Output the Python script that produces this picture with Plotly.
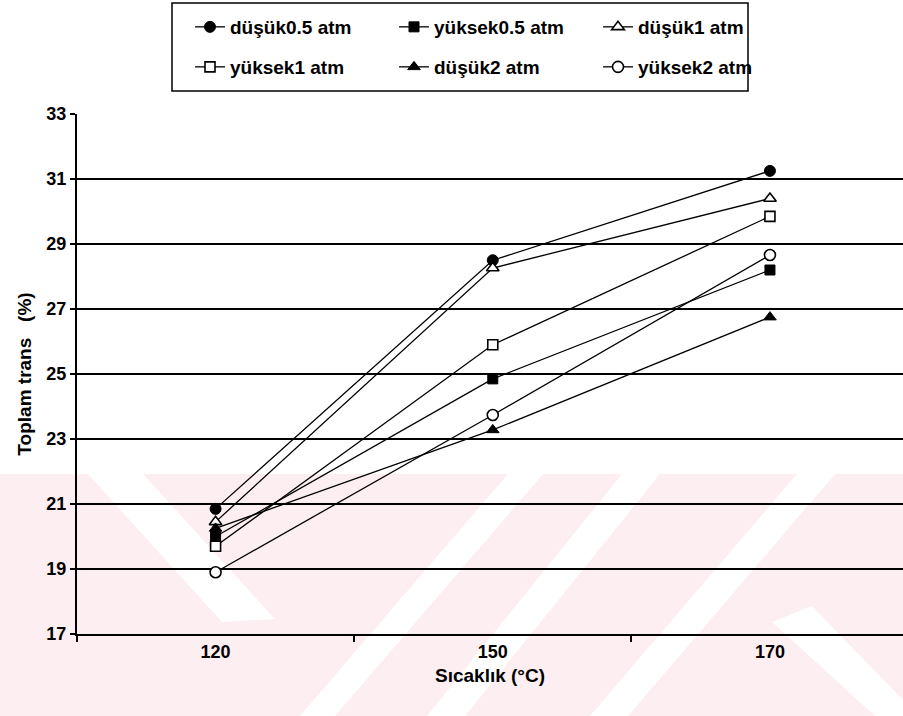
import plotly.graph_objects as go

# ---- data ----
categories = ["120", "150", "170"]
dusuk05 = [20.85, 28.5, 31.25]
yuksek05 = [20.0, 24.85, 28.2]
dusuk1 = [20.45, 28.26, 30.4]
yuksek1 = [19.7, 25.9, 29.85]
dusuk2 = [20.25, 23.28, 26.75]
yuksek2 = [18.9, 23.74, 28.66]

series_names = ["düşük0.5 atm", "yüksek0.5 atm", "düşük1 atm",
                "yüksek1 atm", "düşük2 atm", "yüksek2 atm"]
y_ticks = [17, 19, 21, 23, 25, 27, 29, 31, 33]

W, H = 903, 716
L, R, T, B = 77, 0, 114, 82
PW, PH = W - L - R, H - T - B


def px(x):
    return (x - L) / PW


def py(y):
    return (H - B - y) / PH


fig = go.Figure()

styles = [
    dict(symbol="circle", size=11, color="black", line=dict(color="black", width=1)),
    dict(symbol="square", size=10, color="black", line=dict(color="black", width=1)),
    dict(symbol="triangle-up", size=11, color="white", line=dict(color="black", width=1.6)),
    dict(symbol="square", size=10, color="white", line=dict(color="black", width=1.6)),
    dict(symbol="triangle-up", size=11, color="black", line=dict(color="black", width=1)),
    dict(symbol="circle", size=11, color="white", line=dict(color="black", width=1.6)),
]
data = [dusuk05, yuksek05, dusuk1, yuksek1, dusuk2, yuksek2]
legends = ["legend", "legend", "legend", "legend2", "legend2", "legend2"]

for name, vals, st, lg in zip(series_names, data, styles, legends):
    fig.add_trace(go.Scatter(
        x=categories, y=vals, name=name, mode="lines+markers",
        line=dict(color="black", width=1.3),
        marker=st, legend=lg,
    ))

# ---- faint background watermark (scan artefact) ----
pink = "#fdeff1"
shapes = [dict(type="rect", xref="paper", yref="paper",
               x0=px(0), x1=px(W), y0=py(474), y1=py(H),
               fillcolor=pink, line=dict(width=0), layer="below")]


def poly(pts):
    path = "M " + " L ".join(f"{px(a):.4f},{py(b):.4f}" for a, b in pts) + " Z"
    return dict(type="path", xref="paper", yref="paper", path=path,
                fillcolor="white", line=dict(width=0), layer="below")


shapes += [
    poly([(88, 474), (143, 474), (275, 619), (222, 622)]),
    poly([(300, 716), (335, 716), (543, 474), (508, 474)]),
    poly([(427, 716), (465, 716), (660, 474), (622, 474)]),
    poly([(590, 716), (628, 716), (835, 474), (797, 474)]),
    poly([(772, 622), (812, 606), (903, 700), (903, 716), (875, 716)]),
]

# legend box
shapes.append(dict(type="rect", xref="paper", yref="paper",
                   x0=px(172), x1=px(748), y0=py(91), y1=py(3),
                   line=dict(color="black", width=1.5), fillcolor="rgba(0,0,0,0)"))

font_family = "Liberation Sans, Arial, sans-serif"
legend_common = dict(orientation="h", xanchor="left", yanchor="middle",
                     bgcolor="rgba(0,0,0,0)", borderwidth=0,
                     entrywidth=159, entrywidthmode="pixels",
                     font=dict(family=font_family, size=19, color="black", weight="bold"),
                     itemsizing="trace")

fig.update_layout(
    width=W, height=H,
    margin=dict(l=L, r=R, t=T, b=B, pad=0),
    paper_bgcolor="white", plot_bgcolor="rgba(0,0,0,0)",
    font=dict(family=font_family, color="black"),
    shapes=shapes,
    legend=dict(x=px(190), y=py(27), **legend_common),
    legend2=dict(x=px(190), y=py(67), **legend_common),
    xaxis=dict(
        type="category", range=[-0.5, 2.48],
        showgrid=False, zeroline=False,
        showline=True, linecolor="black", linewidth=2,
        ticks="outside", tickson="boundaries", ticklen=6, tickcolor="black", tickwidth=1.5,
        tickfont=dict(family=font_family, size=18, color="black", weight="bold"),
        title=dict(text="Sıcaklık (°C)", standoff=8,
                   font=dict(family=font_family, size=19, color="black", weight="bold")),
    ),
    yaxis=dict(
        range=[17, 33], tickvals=y_ticks, ticktext=[str(v) for v in y_ticks],
        showgrid=True, gridcolor="black", gridwidth=1.8,
        zeroline=False,
        showline=True, linecolor="black", linewidth=2,
        ticks="outside", ticklen=5, tickcolor="black", tickwidth=1.5,
        tickfont=dict(family=font_family, size=18, color="black", weight="bold"),
        title=dict(text="Toplam trans   (%)", standoff=10,
                   font=dict(family=font_family, size=19, color="black", weight="bold")),
    ),
)

fig.write_html("out.html")
